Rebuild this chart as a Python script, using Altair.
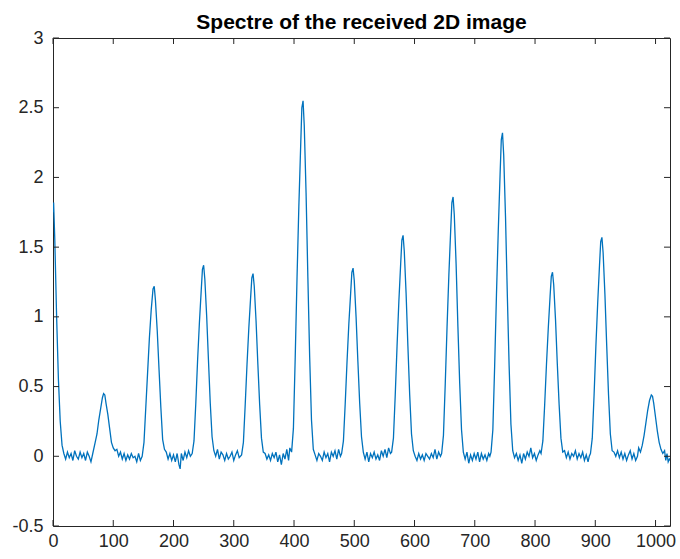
import altair as alt
import pandas as pd

# sample index (x) and spectrum amplitude (y)
idx_peak0 = [0, 1, 3, 6, 9, 12, 15, 18]
amp_peak0 = [1.75, 1.82, 1.55, 1.0, 0.55, 0.25, 0.08, 0.02]

idx_base1 = [21, 24, 27, 30, 33, 36, 39, 42, 45, 48, 51, 54, 57, 60, 63]
amp_base1 = [-0.02, 0.03, -0.01, 0.02, -0.03, 0.04, 0.0, -0.02, 0.03, -0.01, 0.02, -0.03, 0.03, 0.0, -0.04]

idx_peak1 = [66, 70, 73, 76, 79, 82, 84, 86, 88, 91, 94, 97, 100, 103]
amp_peak1 = [0.02, 0.1, 0.16, 0.26, 0.34, 0.42, 0.45, 0.44, 0.38, 0.3, 0.2, 0.1, 0.06, 0.04]

idx_base2 = [106, 109, 112, 115, 118, 121, 124, 127, 130, 133, 136, 139, 142, 145]
amp_base2 = [0.05, 0.0, 0.03, -0.02, 0.02, -0.03, 0.01, -0.02, 0.02, -0.01, 0.0, -0.04, 0.02, -0.03]

idx_peak2 = [148, 151, 154, 157, 160, 163, 166, 168, 170, 173, 176, 179, 182, 185]
amp_peak2 = [0.0, 0.1, 0.35, 0.6, 0.85, 1.05, 1.2, 1.22, 1.12, 0.9, 0.62, 0.35, 0.12, 0.05]

idx_base3 = [188, 191, 194, 197, 200, 203, 206, 209, 211, 213, 216, 219, 222, 225, 228]
amp_base3 = [0.03, -0.02, 0.02, -0.03, 0.01, -0.04, 0.02, -0.06, -0.09, 0.02, -0.03, 0.03, -0.01, 0.04, 0.0]

idx_peak3 = [231, 234, 237, 240, 243, 246, 248, 250, 252, 255, 258, 261, 264, 267]
amp_peak3 = [0.02, 0.11, 0.38, 0.69, 0.96, 1.19, 1.34, 1.37, 1.27, 1.01, 0.69, 0.38, 0.14, 0.04]

idx_base4 = [270, 273, 276, 279, 282, 285, 288, 291, 294, 297, 300, 303, 306, 309]
amp_base4 = [0.0, 0.05, -0.02, 0.03, 0.01, -0.03, 0.02, -0.02, 0.0, 0.03, -0.03, 0.01, 0.04, -0.01]

idx_peak4 = [313, 316, 319, 322, 325, 328, 330, 332, 334, 337, 340, 343, 346, 349]
amp_peak4 = [0.01, 0.1, 0.37, 0.66, 0.92, 1.14, 1.28, 1.31, 1.22, 0.97, 0.66, 0.37, 0.13, 0.03]

idx_base5 = [352, 355, 358, 361, 364, 367, 370, 373, 376, 379, 382, 385, 388, 391, 393]
amp_base5 = [0.02, -0.02, 0.01, -0.03, 0.02, -0.01, 0.03, -0.04, 0.01, -0.06, 0.02, -0.02, 0.05, -0.03, 0.06]

idx_peak5 = [396, 399, 402, 405, 408, 411, 413, 415, 417, 420, 423, 426, 429, 432]
amp_peak5 = [0.03, 0.2, 0.71, 1.28, 1.79, 2.22, 2.5, 2.55, 2.37, 1.89, 1.28, 0.71, 0.26, 0.05]

idx_base6 = [435, 438, 441, 444, 447, 450, 453, 456, 459, 462, 465, 468, 471, 474, 477]
amp_base6 = [0.01, -0.03, 0.02, 0.0, -0.03, 0.03, -0.01, 0.02, -0.04, 0.03, 0.0, 0.04, -0.02, 0.05, 0.0]

idx_peak6 = [479, 482, 485, 488, 491, 494, 496, 498, 500, 503, 506, 509, 512, 515]
amp_peak6 = [0.02, 0.11, 0.38, 0.68, 0.95, 1.17, 1.32, 1.35, 1.26, 1.0, 0.68, 0.38, 0.14, 0.03]

idx_base7 = [518, 521, 524, 527, 530, 533, 536, 539, 542, 545, 548, 551, 554, 557, 560]
amp_base7 = [-0.02, 0.03, -0.04, 0.02, -0.01, 0.03, -0.02, 0.01, -0.03, 0.04, 0.0, 0.05, -0.01, 0.06, 0.02]

idx_peak7 = [562, 565, 568, 571, 574, 577, 579, 581, 583, 586, 589, 592, 595, 598]
amp_peak7 = [0.03, 0.13, 0.44, 0.79, 1.11, 1.38, 1.55, 1.585, 1.47, 1.17, 0.79, 0.44, 0.16, 0.04]

idx_base8 = [601, 604, 607, 610, 613, 616, 619, 622, 625, 628, 631, 634, 637, 640, 643]
amp_base8 = [0.0, -0.03, 0.02, -0.02, 0.01, -0.03, 0.02, 0.0, -0.02, 0.02, -0.01, 0.05, -0.02, 0.03, 0.0]

idx_peak8 = [645, 648, 651, 654, 657, 660, 662, 664, 666, 669, 672, 675, 678, 681]
amp_peak8 = [0.02, 0.15, 0.52, 0.93, 1.3, 1.62, 1.82, 1.86, 1.73, 1.38, 0.93, 0.52, 0.19, 0.03]

idx_base9 = [684, 687, 690, 693, 696, 699, 702, 705, 708, 711, 714, 717, 720, 723, 725]
amp_base9 = [-0.02, 0.03, -0.05, 0.01, -0.03, 0.02, -0.02, 0.03, -0.04, 0.02, -0.02, 0.01, -0.03, 0.02, 0.0]

idx_peak9 = [727, 730, 733, 736, 739, 742, 744, 746, 748, 751, 754, 757, 760, 763]
amp_peak9 = [0.03, 0.19, 0.65, 1.16, 1.62, 2.02, 2.27, 2.32, 2.16, 1.72, 1.16, 0.65, 0.23, 0.04]

idx_base10 = [766, 769, 772, 775, 778, 781, 784, 787, 790, 793, 796, 799, 802, 805, 808]
amp_base10 = [-0.01, 0.02, -0.03, 0.01, -0.05, 0.02, -0.02, 0.03, 0.0, 0.06, -0.01, 0.02, -0.03, 0.01, 0.04]

idx_peak10 = [810, 813, 816, 819, 822, 825, 827, 829, 831, 834, 837, 840, 843, 846]
amp_peak10 = [0.02, 0.11, 0.37, 0.66, 0.92, 1.15, 1.29, 1.32, 1.23, 0.98, 0.66, 0.37, 0.13, 0.03]

idx_base11 = [849, 852, 855, 858, 861, 864, 867, 870, 873, 876, 879, 882, 885, 888, 890]
amp_base11 = [0.04, -0.01, 0.03, -0.02, 0.02, 0.0, 0.04, -0.02, 0.02, -0.01, 0.03, -0.03, 0.01, -0.04, 0.0]

idx_peak11 = [892, 895, 898, 901, 904, 907, 909, 911, 913, 916, 919, 922, 925, 928]
amp_peak11 = [0.02, 0.13, 0.44, 0.79, 1.1, 1.37, 1.54, 1.57, 1.46, 1.16, 0.79, 0.44, 0.16, 0.04]

idx_base12 = [931, 934, 937, 940, 943, 946, 949, 952, 955, 958, 961, 964, 967, 970, 972]
amp_base12 = [0.03, 0.0, 0.04, -0.01, 0.03, -0.02, 0.02, -0.03, 0.01, 0.04, -0.02, 0.02, -0.03, 0.0, 0.06]

idx_peak12 = [975, 978, 981, 984, 987, 990, 993, 995, 997, 1000, 1003, 1006, 1009, 1012]
amp_peak12 = [0.03, 0.08, 0.15, 0.24, 0.33, 0.4, 0.44, 0.43, 0.38, 0.28, 0.18, 0.1, 0.05, 0.02]

idx_base13 = [1015, 1017, 1019, 1021, 1023, 1024]
amp_base13 = [0.04, -0.03, 0.02, -0.04, -0.02, -0.03]

x_ticks = [0, 100, 200, 300, 400, 500, 600, 700, 800, 900, 1000]
y_ticks = [-0.5, 0, 0.5, 1, 1.5, 2, 2.5, 3]

idx = (idx_peak0 + idx_base1 + idx_peak1 + idx_base2 + idx_peak2 + idx_base3 + idx_peak3
       + idx_base4 + idx_peak4 + idx_base5 + idx_peak5 + idx_base6 + idx_peak6 + idx_base7
       + idx_peak7 + idx_base8 + idx_peak8 + idx_base9 + idx_peak9 + idx_base10 + idx_peak10
       + idx_base11 + idx_peak11 + idx_base12 + idx_peak12 + idx_base13)
amp = (amp_peak0 + amp_base1 + amp_peak1 + amp_base2 + amp_peak2 + amp_base3 + amp_peak3
       + amp_base4 + amp_peak4 + amp_base5 + amp_peak5 + amp_base6 + amp_peak6 + amp_base7
       + amp_peak7 + amp_base8 + amp_peak8 + amp_base9 + amp_peak9 + amp_base10 + amp_peak10
       + amp_base11 + amp_peak11 + amp_base12 + amp_peak12 + amp_base13)

df = pd.DataFrame({"i": idx, "v": amp})
dx = pd.DataFrame({"t": x_ticks})
dy = pd.DataFrame({"t": y_ticks})

W, H = 617, 488
FONT = "Liberation Sans"
TXT = "#262626"
LABEL_EXPR = "replace(format(datum.value, '~g'), '\u2212', '-')"

xscale = alt.Scale(domain=[0, 1024], nice=False, zero=False)
yscale = alt.Scale(domain=[-0.5, 3], nice=False, zero=False)

x_axis = alt.Axis(values=x_ticks, title=None, grid=False, ticks=False, domain=False,
                  labelFont=FONT, labelFontSize=18, labelColor=TXT, labelPadding=6,
                  labelFlush=False, labelOverlap=False, labelExpr=LABEL_EXPR)
y_axis = alt.Axis(values=y_ticks, title=None, grid=False, ticks=False, domain=False,
                  labelFont=FONT, labelFontSize=18, labelColor=TXT, labelPadding=10,
                  labelOverlap=False, labelExpr=LABEL_EXPR)

line = alt.Chart(df).mark_line(color="#0072BD", strokeWidth=1.3, clip=True).encode(
    x=alt.X("i:Q", scale=xscale, axis=x_axis),
    y=alt.Y("v:Q", scale=yscale, axis=y_axis),
)

tick_style = dict(color=TXT, strokeWidth=1)
xt_bot = alt.Chart(dx).mark_rule(**tick_style).encode(
    x=alt.X("t:Q", scale=xscale), y=alt.value(H), y2=alt.value(H - 6))
xt_top = alt.Chart(dx).mark_rule(**tick_style).encode(
    x=alt.X("t:Q", scale=xscale), y=alt.value(0), y2=alt.value(6))
yt_left = alt.Chart(dy).mark_rule(**tick_style).encode(
    y=alt.Y("t:Q", scale=yscale), x=alt.value(0), x2=alt.value(6))
yt_right = alt.Chart(dy).mark_rule(**tick_style).encode(
    y=alt.Y("t:Q", scale=yscale), x=alt.value(W), x2=alt.value(W - 6))

chart = alt.layer(line, xt_bot, xt_top, yt_left, yt_right).properties(
    width=W, height=H,
    autosize="none",
    padding={"left": 53, "top": 38, "right": 10, "bottom": 33},
    title=alt.TitleParams("Spectre of the received 2D image", font=FONT, fontSize=21,
                          fontWeight="bold", color="#000000", offset=-4, anchor="middle"),
    background="white",
).configure_view(stroke=TXT, strokeWidth=1)

chart.save("out.html", embed_options={"renderer": "svg", "actions": False})
